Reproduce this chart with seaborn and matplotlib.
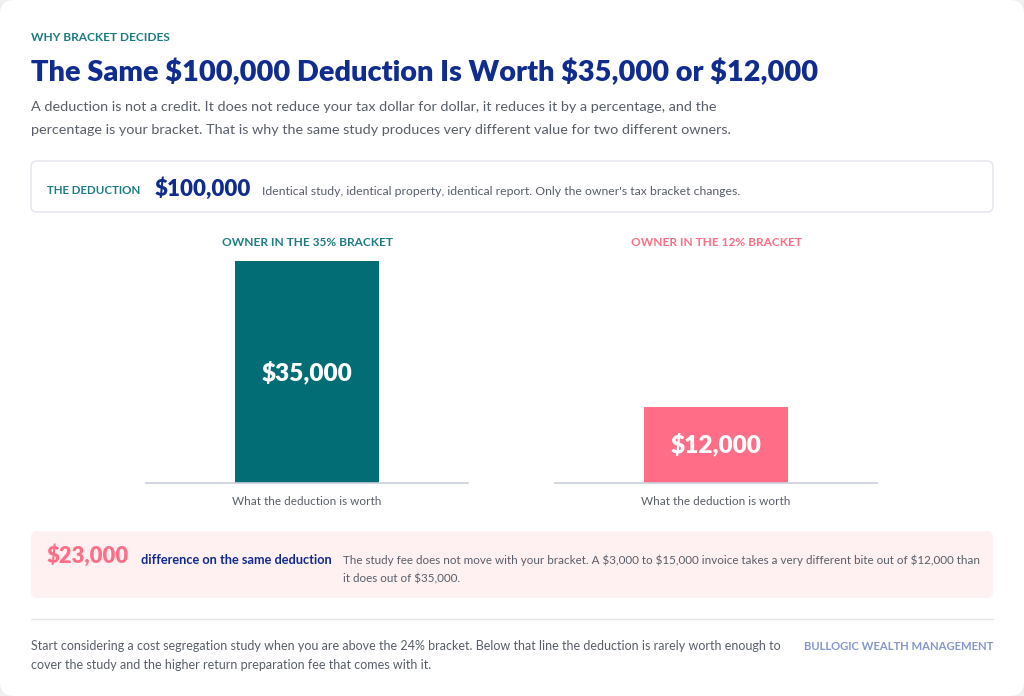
import matplotlib.pyplot as plt
import seaborn as sns
from matplotlib.patches import FancyBboxPatch

# --- data ---
deduction = 100000
brackets = ["OWNER IN THE 35% BRACKET", "OWNER IN THE 12% BRACKET"]
worth = [35000, 12000]
worth_labels = ["$35,000", "$12,000"]
difference = worth[0] - worth[1]

# --- colours ---
navy = "#0f2c8e"
teal = "#1d7b83"
teal_bar = "#036d75"
pink = "#ff6e86"
grey = "#585e69"
bar_colors = [teal_bar, pink]
title_colors = [teal, pink]

sns.set_theme(style="white")
plt.rcParams["font.family"] = ["Lato", "DejaVu Sans"]

fig = plt.figure(figsize=(10.24, 6.96), dpi=100)
fig.patch.set_facecolor("#efefef")

# background layer in pixel coordinates
bg = fig.add_axes([0, 0, 1, 1], zorder=0)
bg.set_xlim(0, 1024)
bg.set_ylim(696, 0)
bg.axis("off")

bg.add_patch(FancyBboxPatch((0, 0), 1024, 696, boxstyle="round,pad=0,rounding_size=14",
                            facecolor="white", edgecolor="none"))

bg.text(31, 41, "WHY BRACKET DECIDES", color=teal, fontsize=8.6, fontweight="bold", va="baseline")
bg.text(31, 81, "The Same $100,000 Deduction Is Worth $35,000 or $12,000",
        color=navy, fontsize=20.8, fontweight="heavy", va="baseline")
bg.text(31, 111, "A deduction is not a credit. It does not reduce your tax dollar for dollar, "
        "it reduces it by a percentage, and the", color=grey, fontsize=10.4, va="baseline")
bg.text(31, 134, "percentage is your bracket. That is why the same study produces very different "
        "value for two different owners.", color=grey, fontsize=10.4, va="baseline")

# deduction box
bg.add_patch(FancyBboxPatch((31, 161), 962, 51, boxstyle="round,pad=0,rounding_size=6",
                            facecolor="white", edgecolor="#e2e5ec", linewidth=1))
bg.text(47, 194, "THE DEDUCTION", color=teal, fontsize=8.3, fontweight="bold", va="baseline")
bg.text(155, 196, f"${deduction:,}", color=navy, fontsize=16, fontweight="heavy", va="baseline")
bg.text(262, 195, "Identical study, identical property, identical report. Only the owner's tax "
        "bracket changes.", color=grey, fontsize=8.8, va="baseline")

# difference box
bg.add_patch(FancyBboxPatch((31, 531), 962, 67, boxstyle="round,pad=0,rounding_size=6",
                            facecolor="#fff0f1", edgecolor="none"))
bg.text(47, 563, f"${difference:,}", color=pink, fontsize=15.8, fontweight="heavy", va="baseline")
bg.text(141, 564, "difference on the same deduction", color=navy, fontsize=9.2,
        fontweight="bold", va="baseline")
bg.text(343, 564, "The study fee does not move with your bracket. A $3,000 to $15,000 invoice "
        "takes a very different bite out of $12,000 than", color=grey, fontsize=8.4, va="baseline")
bg.text(343, 582, "it does out of $35,000.", color=grey, fontsize=8.4, va="baseline")

bg.plot([31, 993], [619, 619], color="#e6e7ea", linewidth=1)

bg.text(31, 650, "Start considering a cost segregation study when you are above the 24% bracket. "
        "Below that line the deduction is rarely worth enough to", color=grey, fontsize=9, va="baseline")
bg.text(31, 669, "cover the study and the higher return preparation fee that comes with it.",
        color=grey, fontsize=9, va="baseline")
bg.text(993, 650, "BULLOGIC WEALTH MANAGEMENT", color="#8497cc", fontsize=8.1,
        fontweight="bold", ha="right", va="baseline")

# --- bar panels ---
panel_left = [146, 555]
top_y, base_y = 261, 483
for i in range(2):
    ax = fig.add_axes([panel_left[i] / 1024, 1 - base_y / 696, 322 / 1024, (base_y - top_y) / 696],
                      zorder=2)
    ax.set_facecolor("none")
    sns.barplot(x=[brackets[i]], y=[worth[i]], color=bar_colors[i], width=0.45,
                saturation=1, ax=ax)
    ax.set_ylim(0, max(worth))
    ax.set_xlim(-0.5, 0.5)
    for b in ax.patches:
        b.set_clip_on(False)
        b.set_edgecolor("none")
    ax.bar_label(ax.containers[0], labels=[worth_labels[i]], label_type="center",
                 color="white", fontsize=17.6, fontweight="heavy")
    ax.set_title(brackets[i], color=title_colors[i], fontsize=8.6, fontweight="bold", pad=10.5)
    ax.set_xticks([])
    ax.set_yticks([])
    ax.set_xlabel("What the deduction is worth", color=grey, fontsize=8.5, labelpad=9.5)
    ax.set_ylabel("")
    for s in ["top", "left", "right"]:
        ax.spines[s].set_visible(False)
    ax.spines["bottom"].set_color("#c8cedb")
    ax.spines["bottom"].set_linewidth(1.2)

fig.savefig("out.png", dpi=100, facecolor=fig.get_facecolor())
